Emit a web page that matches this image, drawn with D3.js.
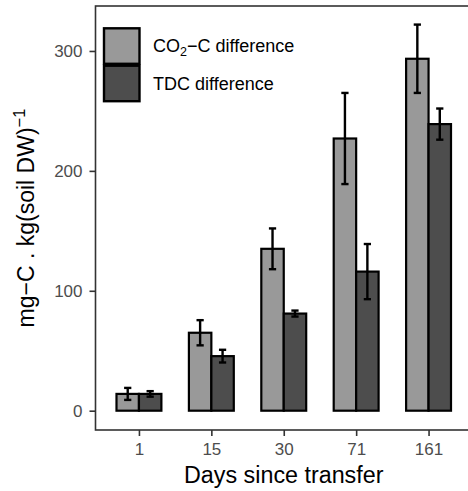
<!DOCTYPE html>
<html>
<head>
<meta charset="utf-8">
<script src="https://cdn.jsdelivr.net/npm/d3@7"></script>
<style>
  html, body { margin: 0; padding: 0; background: #fff; }
  svg { display: block; font-family: "Liberation Sans", Arial, sans-serif; }
</style>
</head>
<body>
<svg id="chart" width="468" height="491"></svg>
<script>
const days = ["1", "15", "30", "71", "161"];
const seriesNames = ["CO2-C difference", "TDC difference"];
const co2Mean = [14, 65, 135, 227, 293.5];
const co2Err  = [5, 10.5, 17, 38, 28.5];
const tdcMean = [14, 45.5, 81, 116, 239];
const tdcErr  = [2.3, 5.3, 2.5, 23, 13];
const yTicks = [0, 100, 200, 300];
const fills = ["#999999", "#4d4d4d"];

const svg = d3.select("#chart");
const panel = {left: 95.5, right: 472, top: 6, bottom: 430};

const x = d3.scalePoint().domain(days).range([panel.left, panel.right]).padding(0.6);
const y = d3.scaleLinear().domain([-16.1, 337.5]).range([panel.bottom, panel.top]);
const step = x.step();
const bw = 0.31 * step;
const capW = 0.1 * step;

const data = [];
days.forEach((d, i) => {
  data.push({day: d, s: 0, mean: co2Mean[i], err: co2Err[i]});
  data.push({day: d, s: 1, mean: tdcMean[i], err: tdcErr[i]});
});
const bx = d => x(d.day) + (d.s === 0 ? -bw : 0);

// bars
svg.append("g").selectAll("rect").data(data).join("rect")
  .attr("x", bx)
  .attr("y", d => y(d.mean))
  .attr("width", bw)
  .attr("height", d => y(0) - y(d.mean))
  .attr("fill", d => fills[d.s])
  .attr("stroke", "#000")
  .attr("stroke-width", 2.2);

// error bars
const eg = svg.append("g").attr("stroke", "#000").attr("stroke-width", 2.4);
data.forEach(d => {
  const cx = bx(d) + bw / 2;
  eg.append("line").attr("x1", cx).attr("x2", cx).attr("y1", y(d.mean + d.err)).attr("y2", y(d.mean - d.err));
  eg.append("line").attr("x1", cx - capW / 2).attr("x2", cx + capW / 2).attr("y1", y(d.mean + d.err)).attr("y2", y(d.mean + d.err));
  eg.append("line").attr("x1", cx - capW / 2).attr("x2", cx + capW / 2).attr("y1", y(d.mean - d.err)).attr("y2", y(d.mean - d.err));
});

// panel border
svg.append("rect")
  .attr("x", panel.left).attr("y", panel.top)
  .attr("width", panel.right - panel.left).attr("height", panel.bottom - panel.top)
  .attr("fill", "none").attr("stroke", "#333").attr("stroke-width", 1.6);

// axes
const xAxis = svg.append("g").attr("transform", `translate(0,${panel.bottom})`)
  .call(d3.axisBottom(x).tickSize(6).tickPadding(7));
const yAxis = svg.append("g").attr("transform", `translate(${panel.left},0)`)
  .call(d3.axisLeft(y).tickValues(yTicks).tickSize(6).tickPadding(7));
[xAxis, yAxis].forEach(a => {
  a.select(".domain").remove();
  a.selectAll(".tick line").attr("stroke", "#333").attr("stroke-width", 1.6);
  a.selectAll(".tick text").attr("fill", "#4d4d4d").style("font-size", "17px")
    .style("font-family", "'Liberation Sans', Arial, sans-serif");
});

// axis titles
svg.append("text")
  .attr("x", (95.5 + 472) / 2).attr("y", 483)
  .attr("text-anchor", "middle").style("font-size", "23.3px").attr("fill", "#000")
  .text("Days since transfer");

const yt = svg.append("text")
  .attr("transform", `translate(34,${(panel.top + panel.bottom) / 2}) rotate(-90)`)
  .attr("text-anchor", "middle").style("font-size", "23px").attr("fill", "#000");
yt.append("tspan").text("mg\u2212C . kg(soil DW)");
yt.append("tspan").attr("dy", "-9px").style("font-size", "16.5px").text("\u22121");

// legend
const lg = svg.append("g");
const keyY = [28.3, 65.7];
const keyH = 35.5;
keyY.forEach((ky, i) => {
  lg.append("rect").attr("x", 104).attr("y", ky).attr("width", 35.5).attr("height", keyH)
    .attr("fill", fills[i]).attr("stroke", "#000").attr("stroke-width", 2.4);
});
const t1 = lg.append("text").attr("x", 153).attr("y", keyY[0] + keyH / 2 + 6.3)
  .style("font-size", "18px").attr("fill", "#000");
t1.append("tspan").text("CO");
t1.append("tspan").attr("dy", "4px").style("font-size", "12.5px").text("2");
t1.append("tspan").attr("dy", "-4px").text("\u2212C difference");
lg.append("text").attr("x", 153).attr("y", keyY[1] + keyH / 2 + 6.3)
  .style("font-size", "18px").attr("fill", "#000")
  .text("TDC difference");
</script>
</body>
</html>
